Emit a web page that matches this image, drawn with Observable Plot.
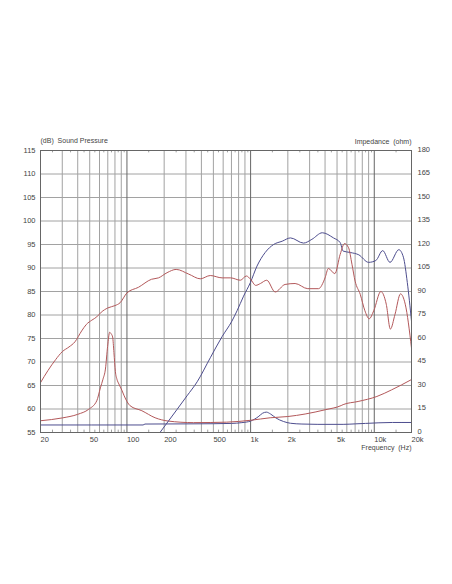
<!DOCTYPE html>
<html>
<head>
<meta charset="utf-8">
<script src="https://cdn.jsdelivr.net/npm/d3@7"></script>
<script src="https://cdn.jsdelivr.net/npm/@observablehq/plot@0.6"></script>
<style>
  html, body { margin: 0; padding: 0; background: #fff; }
</style>
</head>
<body>
<div id="chart"></div>
<script>
// ---- Data ----
// Woofer sound pressure (dB)
const wooferSplFreq = [20,23,26.5,30,34,38,43,47,52,57,62,70,80,88,100,124,158,180,211,250,316,392,472,588,690,826,924,1000,1100,1200,1350,1580,1900,2290,2900,3540,4000,4250,4800,5300,5750,6200,6600,7000,7700,8400,9100,9900,11300,12500,13500,14700,16300,17800,20000];
const wooferSplDb   = [65.6,68.2,70.5,72.2,73.2,74.3,76.6,78.0,78.9,79.6,80.6,81.5,82.0,82.6,84.7,85.9,87.6,87.9,89.0,89.7,88.7,87.7,88.4,87.9,87.9,87.4,88.3,87.6,86.3,86.7,87.4,84.9,86.5,86.7,85.6,85.6,87.9,89.9,88.8,92.9,95.2,94.3,90.8,87.2,84.4,80.9,79.2,80.9,85.0,82.3,77.0,80.1,84.5,82.3,73.0];

// Tweeter sound pressure (dB)
const tweeterSplFreq = [185,254,306,370,472,588,706,777,877,996,1126,1312,1534,1800,2100,2680,3130,3800,4680,5300,5600,6400,7500,9000,10300,11700,13400,15800,17200,18500,20000];
const tweeterSplDb   = [55.0,59.9,62.8,65.8,70.9,75.4,78.7,80.9,84.0,86.9,90.4,93.3,95.0,95.7,96.4,95.3,96.1,97.5,96.4,95.4,93.6,93.3,92.8,91.2,91.6,93.7,91.2,93.9,92.3,86.9,78.7];

// Woofer impedance (ohm)
const wooferImpFreq = [20,30,40,49,57,61,64,67,69.8,72.5,74.5,76.6,78.5,80.6,83,86,91,95,106,132,169,216,346,640,1000,1440,2000,2760,4000,5400,5600,7400,10500,13800,20000];
const wooferImpOhm  = [7.5,9.3,11.6,14.8,20.2,28.5,34,40.5,55,64,63,61,51,39,34,31,27,23.4,17.1,13.9,9.4,7.3,6.3,6.6,7.8,9.4,10.2,11.8,14.5,17.2,17.8,19.8,23.0,27.2,33.8];

// Tweeter impedance (ohm)
const tweeterImpFreq = [20,135,140,300,500,700,850,1000,1150,1250,1340,1450,1600,1850,2100,2600,3500,5600,7000,8500,14000,20000];
const tweeterImpOhm  = [4.8,4.8,5.4,5.5,5.6,5.8,6.3,7.3,10.0,12.3,13.0,11.8,9.3,7.0,5.9,5.4,5.2,5.2,5.5,5.8,6.4,6.4];

// Axes / ticks
const freqTicks = [20,50,100,200,500,1000,2000,5000,10000,20000];
const freqTickLabels = ["20","50","100","200","500","1k","2k","5k","10k","20k"];
const splTicks = [55,60,65,70,75,80,85,90,95,100,105,110,115];
const impTickLabels = [0,15,30,45,60,75,90,105,120,135,150,165,180];
const gridFreqs = [30,40,50,60,70,80,90,100,200,300,400,500,600,700,800,900,1000,2000,3000,4000,5000,6000,7000,8000,9000,10000];
const majorFreqs = [100,1000,10000];
const minorTickFreqs = [25,35,45,55,65,75,85,95,150,250,350,450,550,650,750,850,950,1500,2500,3500,4500,5500,6500,7500,8500,9500,15000];
const gridDb = [60,65,70,75,80,85,90,95,100,105,110];

// ---- Build tables ----
const zip = (fs, vs, f) => fs.map((x, i) => ({freq: x, y: f(vs[i])}));
const ohmToDb = o => 55 + o / 3;   // right axis 0..180 ohm maps onto 55..115 dB
const wooferSpl = zip(wooferSplFreq, wooferSplDb, v => v);
const tweeterSpl = zip(tweeterSplFreq, tweeterSplDb, v => v);
const wooferImp = zip(wooferImpFreq, wooferImpOhm, ohmToDb);
const tweeterImp = zip(tweeterImpFreq, tweeterImpOhm, ohmToDb);
const freqLabelRows = freqTicks.map((f, i) => ({freq: f, label: freqTickLabels[i]}));
const impLabelRows = impTickLabels.map(o => ({y: ohmToDb(o), label: String(o)}));

const RED = "#b3585a";
const BLUE = "#4d4d8e";
const GRID = "#a2a2a2";
const TXT = "#444";

const chart = Plot.plot({
  width: 452,
  height: 584,
  marginLeft: 40,
  marginRight: 41,
  marginTop: 150,
  marginBottom: 152,
  style: {fontFamily: "'Liberation Sans', Arial, sans-serif", fontSize: "7.5px", color: TXT, background: "#fff"},
  x: {type: "log", domain: [20, 20000], axis: null},
  y: {domain: [55, 115], axis: null},
  marks: [
    Plot.ruleY(gridDb, {stroke: GRID, strokeWidth: 1}),
    Plot.ruleX(gridFreqs.filter(f => !majorFreqs.includes(f)), {stroke: GRID, strokeWidth: 1}),
    Plot.ruleX(majorFreqs, {stroke: "#666", strokeWidth: 1}),
    Plot.ruleX(minorTickFreqs, {y1: 115, y2: 114.5, stroke: "#888", strokeWidth: 0.8}),
    Plot.ruleX(minorTickFreqs, {y1: 55, y2: 55.5, stroke: "#888", strokeWidth: 0.8}),
    Plot.line(tweeterImp, {x: "freq", y: "y", stroke: BLUE, strokeWidth: 1, curve: "monotone-x"}),
    Plot.line(wooferImp, {x: "freq", y: "y", stroke: RED, strokeWidth: 1, curve: "monotone-x"}),
    Plot.line(tweeterSpl, {x: "freq", y: "y", stroke: BLUE, strokeWidth: 1, curve: "monotone-x", clip: true}),
    Plot.line(wooferSpl, {x: "freq", y: "y", stroke: RED, strokeWidth: 1, curve: "monotone-x"}),
    Plot.frame({stroke: "#666", strokeWidth: 1}),
    Plot.text(freqLabelRows, {x: "freq", frameAnchor: "bottom", text: "label", textAnchor: "start", lineAnchor: "top", dy: 4.2, fill: TXT, fontSize: 7.5}),
    Plot.axisY({ticks: splTicks, anchor: "left", tickSize: 0, tickPadding: 5, label: null}),
    Plot.text(impLabelRows, {y: "y", frameAnchor: "right", text: "label", textAnchor: "start", dx: 6, dy: -1.4, fill: TXT, fontSize: 7.5}),
    Plot.text(["(dB)\u00a0\u00a0Sound Pressure"], {frameAnchor: "top-left", textAnchor: "start", dy: -12, fontSize: 7, fill: TXT}),
    Plot.text(["Impedance\u00a0\u00a0(ohm)"], {frameAnchor: "top-right", textAnchor: "end", dy: -11, fontSize: 7, fill: TXT}),
    Plot.text(["Frequency\u00a0\u00a0(Hz)"], {frameAnchor: "bottom-right", textAnchor: "end", dy: 17.8, fontSize: 7, fill: TXT})
  ]
});
document.getElementById("chart").appendChild(chart);
</script>
</body>
</html>
